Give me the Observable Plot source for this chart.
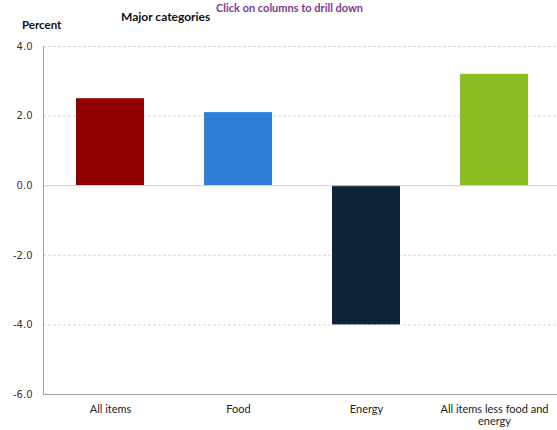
<!DOCTYPE html>
<html>
<head>
<meta charset="utf-8">
<script src="https://cdn.jsdelivr.net/npm/d3@7"></script>
<script src="https://cdn.jsdelivr.net/npm/@observablehq/plot@0.6"></script>
<style>
  html, body { margin: 0; padding: 0; background: #fff; }
  #wrap { position: relative; width: 557px; height: 430px; overflow: hidden; }
  .lbl { position: absolute; white-space: nowrap; font-family: "Lato", "Open Sans", sans-serif; }
</style>
</head>
<body>
<div id="wrap">
  <div class="lbl" style="left:216px; top:1px; font-size:11px; line-height:13px; color:#7b3b8f; font-weight:bold;">Click on columns to drill down</div>
  <div class="lbl" style="left:121px; top:9px; font-size:12px; font-weight:bold; color:#111;">Major categories</div>
  <div class="lbl" style="left:22px; top:18px; font-size:11.5px; font-weight:bold; color:#111;">Percent</div>
</div>
<script>
const categories = ["All items", "Food", "Energy", "All items less food and energy"];
const values = [2.5, 2.1, -4.0, 3.2];
const colors = ["#910000", "#2f7ed8", "#0d233a", "#8bbc21"];
const yTicks = [-6, -4, -2, 0, 2, 4];

const data = categories.map((c, i) => ({category: c, value: values[i], color: colors[i]}));
const labelText = {"All items less food and energy": "All items less food and\nenergy"};

const chart = Plot.plot({
  width: 557,
  height: 430,
  marginLeft: 43,
  marginRight: -3,
  marginTop: 46,
  marginBottom: 36,
  style: {background: "transparent", overflow: "visible"},
  x: {domain: categories, paddingInner: 0.47, paddingOuter: 0.24, label: null},
  y: {domain: [-6, 4], label: null},
  marks: [
    Plot.gridY(yTicks.filter(d => d !== 0 && d !== -6), {stroke: "#d8d8d8", strokeOpacity: 1, strokeDasharray: "3,2"}),
    Plot.barY(data, {x: "category", y: "value", fill: "color"}),
    Plot.ruleY([0], {stroke: "#d0d0d0", strokeWidth: 1}),
    Plot.ruleY([-6], {stroke: "#a0a0a0", strokeWidth: 1}),
    Plot.axisY({ticks: yTicks, tickFormat: d => d.toFixed(1), tickSize: 0, tickPadding: 11,
      fontSize: 10, fontFamily: "DejaVu Sans", fill: "#333", label: null}),
    Plot.axisX({tickSize: 0, tickPadding: 10, fontSize: 11, fontFamily: "Lato", fill: "#222",
      lineHeight: 1.1, tickFormat: d => labelText[d] || d, label: null})
  ]
});
document.getElementById("wrap").appendChild(chart);
chart.style.position = "absolute";
chart.style.left = "0";
chart.style.top = "0";

// y axis line
const svg = d3.select(chart);
svg.append("line").attr("x1", 43.5).attr("x2", 43.5).attr("y1", 46).attr("y2", 394)
  .attr("stroke", "#a0a0a0");
</script>
</body>
</html>
